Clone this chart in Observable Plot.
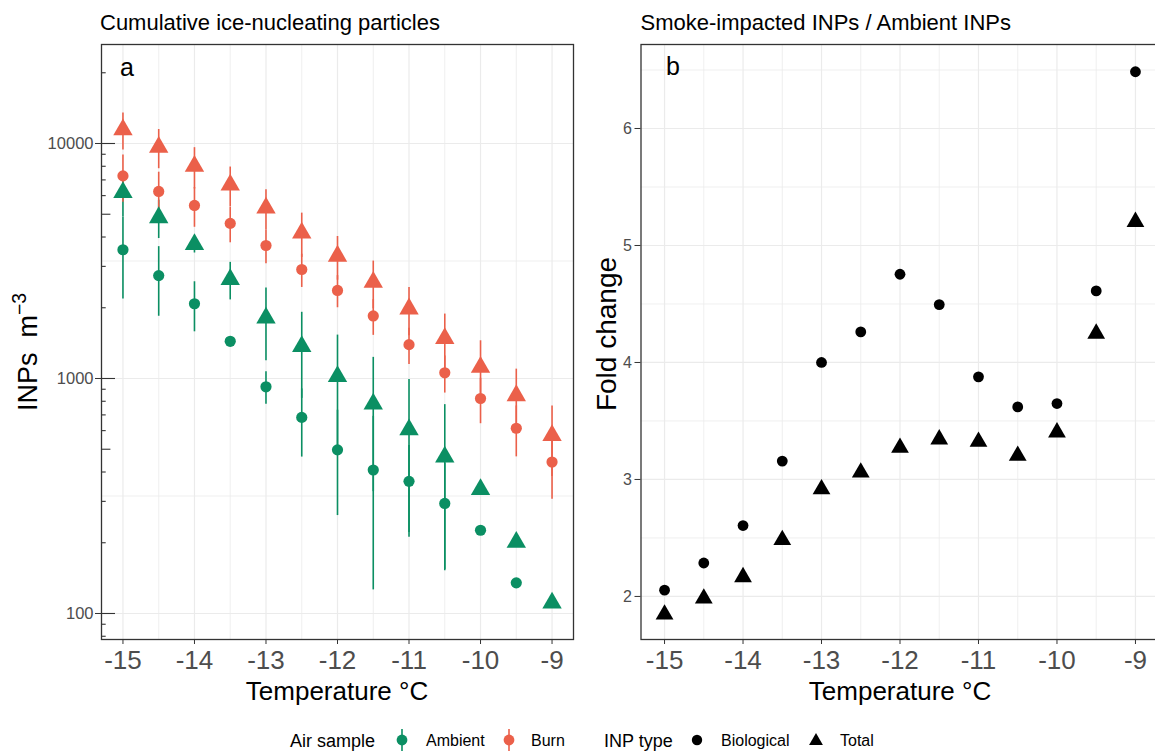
<!DOCTYPE html>
<html><head><meta charset="utf-8">
<script src="https://cdn.jsdelivr.net/npm/d3@7"></script>
<script src="https://cdn.jsdelivr.net/npm/@observablehq/plot@0.6"></script>
<style>
html,body{margin:0;padding:0;background:#fff;}
#root{position:relative;width:1155px;height:752px;overflow:hidden;background:#fff;font-family:"Liberation Sans",Arial,sans-serif;color:#000;}
.abs{position:absolute;white-space:nowrap;line-height:1;}
#root svg{position:absolute;}
</style></head><body><div id="root"></div>
<script>
// ---- data ----
const temps = [-15,-14.5,-14,-13.5,-13,-12.5,-12,-11.5,-11,-10.5,-10,-9.5,-9];
const xTicks = [-15,-14,-13,-12,-11,-10,-9];
const xMinor = [-14.5,-13.5,-12.5,-11.5,-10.5,-9.5];
const burnTotal   = [11440, 9640, 8000, 6660, 5320, 4165, 3320, 2570, 1980, 1480, 1117, 846, 573];
const burnTotalSd = [2050, 1830, 1600, 1280, 1040, 890, 700, 590, 460, 400, 330, 250, 190];
const burnBio     = [7280, 6250, 5450, 4570, 3680, 2910, 2370, 1846, 1393, 1057, 822, 614, 441];
const burnBioSd   = [1650, 1300, 1050, 790, 600, 470, 370, 320, 245, 190, 180, 150, 135];
const ambTotal    = [6190, 4840, 3720, 2640, 1810, 1368, 1020, 780, 606, 464, 337, 201, 111];
const ambTotalSd  = [1300, 900, 300, 480, 620, 545, 510, 450, 385, 310, 0, 0, 0];
const ambBio      = [3530, 2740, 2080, 1440, 922, 683, 497, 408, 365, 294, 226, 135, null];
const ambBioSd    = [1350, 900, 500, 0, 145, 220, 236, 282, 154, 142, 0, 0, null];
const foldBio     = [2.054, 2.286, 2.606, 3.157, 4.0, 4.261, 4.754, 4.495, 3.877, 3.62, 3.649, 4.612, 6.485];
const foldTotal   = [1.846, 1.983, 2.166, 2.483, 2.917, 3.06, 3.272, 3.343, 3.323, 3.203, 3.403, 4.247, 5.202];
const yTicksLog = [100, 1000, 10000];
const yMinorLog = [316.23, 3162.3];
const logShort = [80, 90, 200, 300, 400, 600, 700, 800, 900, 2000, 3000, 4000, 6000, 7000, 8000, 9000, 20000];
const logMid = [500, 5000];
const yTicksFold = [2, 3, 4, 5, 6];
const yMinorFold = [2.5, 3.5, 4.5, 5.5, 6.5];
const samples = ["Ambient", "Burn"];
const types = ["Biological", "Total"];
const sampleColors = ["#0B8F63", "#EB604A"];

const rows = [];
temps.forEach((t, i) => {
  rows.push({t, sample: "Ambient", type: "Total", v: ambTotal[i], sd: ambTotalSd[i]});
  if (ambBio[i] != null) rows.push({t, sample: "Ambient", type: "Biological", v: ambBio[i], sd: ambBioSd[i]});
  rows.push({t, sample: "Burn", type: "Total", v: burnTotal[i], sd: burnTotalSd[i]});
  rows.push({t, sample: "Burn", type: "Biological", v: burnBio[i], sd: burnBioSd[i]});
});
const foldRows = [];
temps.forEach((t, i) => {
  foldRows.push({t, type: "Biological", v: foldBio[i]});
  foldRows.push({t, type: "Total", v: foldTotal[i]});
});

const root = document.getElementById("root");
const grid = "#EBEBEB", dark = "#333333", tickText = "#4D4D4D";
const svgStyle = {fontFamily: '"Liberation Sans", Arial, sans-serif', background: "transparent", overflow: "visible"};

// ---- left panel ----
const leftW = 580, leftH = 680, lM = {l: 101, r: 7, t: 44, b: 41};
const leftInner = leftW - lM.l - lM.r;
const left = Plot.plot({
  width: leftW, height: leftH,
  marginLeft: lM.l, marginRight: lM.r, marginTop: lM.t, marginBottom: lM.b,
  style: svgStyle,
  x: {domain: [-15.3, -8.7]},
  y: {type: "log", domain: [77.5, 26380]},
  color: {domain: samples, range: sampleColors},
  symbol: {domain: types, range: ["circle", "triangle"]},
  marks: [
    Plot.ruleX(xMinor, {stroke: grid, strokeWidth: 0.8}),
    Plot.ruleY(yMinorLog, {stroke: grid, strokeWidth: 0.8}),
    Plot.ruleX(xTicks, {stroke: grid, strokeWidth: 1.2}),
    Plot.ruleY(yTicksLog, {stroke: grid, strokeWidth: 1.2}),
    Plot.ruleX(rows.filter(d => d.sd > 0), {x: "t", y1: d => d.v - d.sd, y2: d => d.v + d.sd, stroke: "sample", strokeWidth: 1.6}),
    Plot.dot(rows.filter(d => d.type === "Biological"), {x: "t", y: "v", fill: "sample", symbol: "type", r: 5.6}),
    Plot.dot(rows.filter(d => d.type === "Total"), {x: "t", y: "v", fill: "sample", symbol: "type", r: 7.2}),
    Plot.frame({stroke: dark, strokeWidth: 1.3}),
    Plot.ruleY(logShort, {stroke: dark, strokeWidth: 1.1, insetRight: leftInner - 4.7}),
    Plot.ruleY(logMid, {stroke: dark, strokeWidth: 1.1, insetRight: leftInner - 9.4}),
    Plot.ruleY(yTicksLog, {stroke: dark, strokeWidth: 1.1, insetRight: leftInner - 14}),
    Plot.axisY(yTicksLog, {tickSize: 6, tickPadding: 2, fontSize: 16.5, fill: tickText, stroke: dark, tickFormat: d3.format("d"), label: null}),
    Plot.axisX(xTicks, {tickSize: 5, tickPadding: 6, fontSize: 26, fill: tickText, stroke: dark, tickFormat: d => String(d), label: null})
  ]
});
left.style.left = "0px"; left.style.top = "0px";
root.appendChild(left);

// ---- right panel ----
const rightW = 580, rightH = 680;
const right = Plot.plot({
  width: rightW, height: rightH,
  marginLeft: 60.5, marginRight: 1.5, marginTop: 44, marginBottom: 41,
  style: svgStyle,
  x: {domain: [-15.3, -8.7]},
  y: {domain: [1.632, 6.718]},
  symbol: {domain: types, range: ["circle", "triangle"]},
  marks: [
    Plot.ruleX(xMinor, {stroke: grid, strokeWidth: 0.8}),
    Plot.ruleY(yMinorFold, {stroke: grid, strokeWidth: 0.8}),
    Plot.ruleX(xTicks, {stroke: grid, strokeWidth: 1.2}),
    Plot.ruleY(yTicksFold, {stroke: grid, strokeWidth: 1.2}),
    Plot.dot(foldRows.filter(d => d.type === "Biological"), {x: "t", y: "v", fill: "#000", symbol: "type", r: 5.4}),
    Plot.dot(foldRows.filter(d => d.type === "Total"), {x: "t", y: "v", fill: "#000", symbol: "type", r: 6.6}),
    Plot.frame({stroke: dark, strokeWidth: 1.3}),
    Plot.axisY(yTicksFold, {tickSize: 6, tickPadding: 3, fontSize: 16, fill: tickText, stroke: dark, tickFormat: d => String(d), label: null}),
    Plot.axisX(xTicks, {tickSize: 5, tickPadding: 6, fontSize: 26, fill: tickText, stroke: dark, tickFormat: d => String(d), label: null})
  ]
});
right.style.left = "580px"; right.style.top = "0px";
root.appendChild(right);

// ---- text helpers ----
function txt(html, x, baseline, fs, opts = {}) {
  const d = document.createElement("div");
  d.className = "abs";
  d.innerHTML = html;
  d.style.fontSize = fs + "px";
  d.style.left = x + "px";
  d.style.top = (baseline - 0.8465 * fs) + "px";
  if (opts.center) d.style.transform = "translateX(-50%)";
  if (opts.color) d.style.color = opts.color;
  root.appendChild(d);
  return d;
}
function vtxt(html, cx, cy, fs) {
  const d = document.createElement("div");
  d.className = "abs";
  d.innerHTML = html;
  d.style.fontSize = fs + "px";
  d.style.left = cx + "px";
  d.style.top = cy + "px";
  d.style.transform = "translate(-50%,-50%) rotate(-90deg)";
  root.appendChild(d);
  return d;
}

txt("Cumulative ice-nucleating particles", 100, 31, 22);
txt("Smoke-impacted INPs / Ambient INPs", 640.5, 31, 22);
txt("a", 120, 76, 25);
txt("b", 666, 75, 25);
txt("Temperature °C", 337, 700, 26, {center: true});
txt("Temperature °C", 900, 700, 26, {center: true});
vtxt('INPs&nbsp;&nbsp;m<span style="position:relative;top:-0.55em;font-size:0.72em">−3</span>', 28, 352, 27);
vtxt("Fold change", 607, 334, 28);

// ---- legend ----
txt("Air sample", 290, 747, 18);
txt("Ambient", 426, 747, 16);
txt("Burn", 531, 747, 16);
txt("INP type", 604, 747, 18);
txt("Biological", 721, 747, 16);
txt("Total", 840, 747, 16);
function key(cx, inner) {
  const ns = "http://www.w3.org/2000/svg";
  const s = document.createElementNS(ns, "svg");
  s.setAttribute("width", 24); s.setAttribute("height", 24);
  s.style.left = (cx - 12) + "px"; s.style.top = (740 - 12) + "px";
  s.innerHTML = inner;
  root.appendChild(s);
}
key(402, `<line x1="12" y1="1" x2="12" y2="23" stroke="${sampleColors[0]}" stroke-width="1.6"/><circle cx="12" cy="12" r="5.4" fill="${sampleColors[0]}"/>`);
key(509, `<line x1="12" y1="1" x2="12" y2="23" stroke="${sampleColors[1]}" stroke-width="1.6"/><circle cx="12" cy="12" r="5.4" fill="${sampleColors[1]}"/>`);
key(697, `<circle cx="12" cy="12" r="5.2" fill="#000"/>`);
key(816, `<path d="${d3.symbol(d3.symbolTriangle2, Math.PI * 6.6 * 6.6)()}" transform="translate(12,13)" fill="#000"/>`);
</script></body></html>
